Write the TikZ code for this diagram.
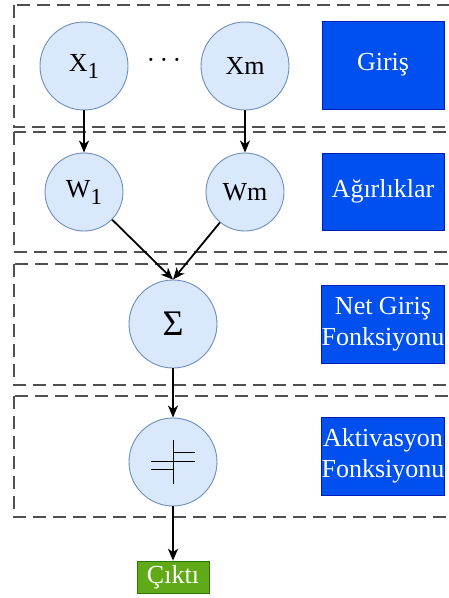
\documentclass[tikz,border=0pt]{standalone}
\usepackage{fontspec}
\setmainfont{Liberation Serif}
\usetikzlibrary{arrows.meta}
\definecolor{cellfill}{HTML}{DAE8FC}
\definecolor{cellline}{HTML}{6C8EBF}
\definecolor{tagblue}{HTML}{0050EF}
\definecolor{tagblueline}{HTML}{001DBC}
\definecolor{outgreen}{HTML}{60A917}
\definecolor{outgreenline}{HTML}{2D7600}
\definecolor{bandline}{HTML}{505050}
\begin{document}
\begin{tikzpicture}[x=1pt,y=-1pt,
  txt/.style={font=\fontsize{26}{31}\selectfont},
  neuron/.style={txt, circle, draw=cellline, fill=cellfill, line width=0.9pt, inner sep=0pt},
  bigneuron/.style={neuron, minimum size=88pt},
  smallneuron/.style={neuron, minimum size=78pt},
  tag/.style={txt, rectangle, draw=tagblueline, fill=tagblue, text=white, line width=0.6pt,
    minimum width=122pt, inner sep=0pt, align=center},
  outbox/.style={txt, rectangle, draw=outgreenline, fill=outgreen, text=white, line width=0.6pt,
    minimum width=72pt, minimum height=32pt, inner sep=0pt},
  band/.style={draw=bandline, dash pattern=on 13pt off 7pt, line width=1.3pt},
  link/.style={-{Stealth[length=12pt,width=10pt,inset=3.5pt]}, line width=1.8pt, draw=black}]

\useasboundingbox (0,0) rectangle (449,598);
\clip (0,0) rectangle (449,598);

% layer frames
\draw[band] (14,5) rectangle (470,127);
\draw[band] (14,132) rectangle (470,252);
\draw[band] (14,264) rectangle (470,385);
\draw[band] (14,396) rectangle (470,517);

% inputs
\node[bigneuron] (x1) at (84,66) {X\raisebox{-7pt}{\fontsize{23}{23}\selectfont 1}};
\node[bigneuron] (xm) at (245,66) {Xm};
\node[txt] (dots) at (164,63) {·\,·\,·};

% weights
\node[smallneuron] (w1) at (84,192) {W\raisebox{-7pt}{\fontsize{23}{23}\selectfont 1}};
\node[smallneuron] (wm) at (245,192) {Wm};

% summation
\node[bigneuron, font=\fontsize{36}{40}\selectfont] (sum) at (173,324) {Σ};

% activation with step symbol
\node[bigneuron] (act) at (173,462) {};
\draw[line width=0.9pt] (173,440) -- (173,484);
\draw[line width=0.9pt] (173,452.7) -- (195,452.7);
\draw[line width=0.9pt] (151,461) -- (195,461);
\draw[line width=0.9pt] (151,469.3) -- (173,469.3);

% output
\node[outbox] (out) at (173,577) {Çıktı};

% layer labels
\node[tag, minimum height=88pt] (lin) at (383,65) {Giriş};
\node[tag, minimum height=77pt] (lw) at (383,191.5) {Ağırlıklar};
\node[tag, minimum height=78pt] (lnet) at (383,324) {Net Giriş\\Fonksiyonu};
\node[tag, minimum height=78pt] (lact) at (383,456) {Aktivasyon\\Fonksiyonu};

% connections
\draw[link] (x1) -- (w1);
\draw[link] (xm) -- (wm);
\draw[link] (w1) -- (sum.north);
\draw[link] (wm) -- (sum.north);
\draw[link] (sum) -- (act);
\draw[link] (act) -- (out);
\end{tikzpicture}
\end{document}
